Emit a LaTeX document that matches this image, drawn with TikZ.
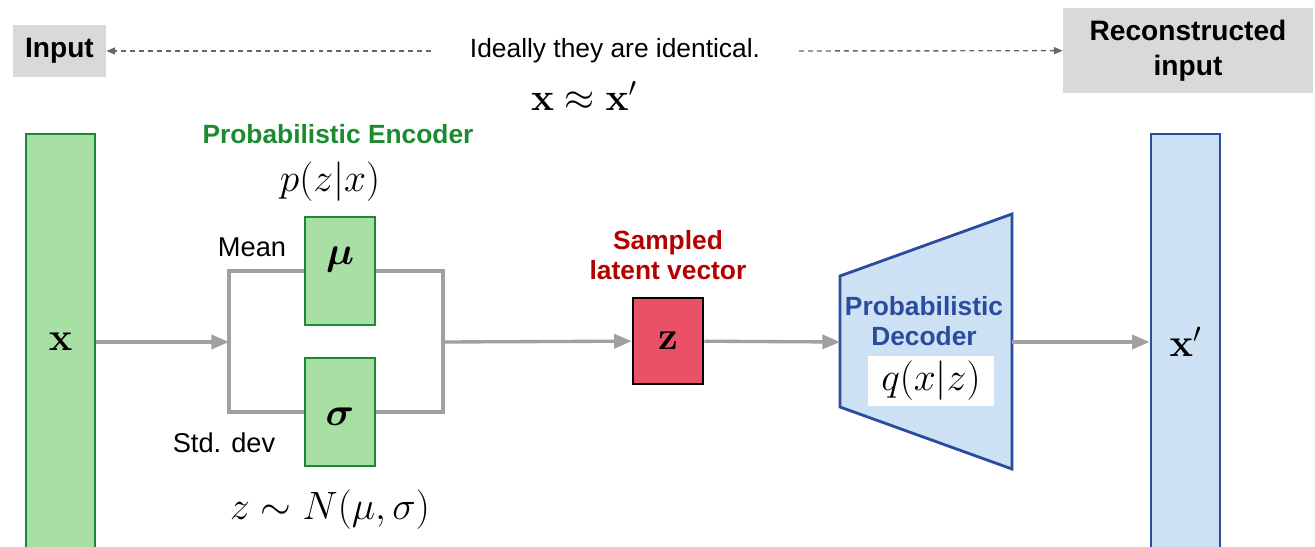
\RequirePackage{fix-cm}
\documentclass[tikz,border=0pt]{standalone}
\usepackage{amsmath, amssymb}
\usepackage[no-math]{fontspec}
\setmainfont{Liberation Sans}
\usepackage{tikz}
\usetikzlibrary{arrows.meta}
\usepackage{xcolor}

\definecolor{tagbg}{HTML}{D9D9D9}
\definecolor{encgreen}{HTML}{1C8A2E}
\definecolor{encfill}{HTML}{A8DFA4}
\definecolor{latentred}{HTML}{EA5166}
\definecolor{latenttext}{HTML}{B30000}
\definecolor{decblue}{HTML}{2B4C9E}
\definecolor{decfill}{HTML}{CDE1F4}
\definecolor{flowgray}{HTML}{A0A0A0}
\definecolor{hintgray}{HTML}{666666}

\begin{document}
\begin{tikzpicture}[
    x=0.02cm, y=-0.02cm,
    every node/.style={font=\fontsize{15.5}{18}\selectfont},
    tag/.style={fill=tagbg, inner sep=0pt, align=center,
        font=\fontsize{16}{19.8}\selectfont\bfseries},
    title/.style={align=center, font=\fontsize{15}{17}\selectfont\bfseries},
    math/.style={font=\fontsize{22.5}{27}\selectfont},
    greenbox/.style={draw=encgreen, fill=encfill, line width=1.6pt, inner sep=0pt},
    bluebox/.style={draw=decblue, fill=decfill, line width=1.6pt, inner sep=0pt},
    flow/.style={draw=flowgray, line width=1.9pt},
    flowarrow/.style={flow, -{Triangle[length=10pt,width=8pt]}},
    hint/.style={draw=hintgray, line width=0.8pt, dash pattern=on 2.8pt off 2.3pt,
        -{Triangle[length=5pt,width=4pt]}}
]
    \clip (0,0) rectangle (1315,547);

    % Top row: input, target and the remark between them
    \node[tag, minimum width=1.86cm, minimum height=1.04cm] (input) at (59.5,51) {Input};
    \node[tag, minimum width=5cm, minimum height=1.7cm] (recon) at (1188,50.5) {Reconstructed\\input};
    \node[inner xsep=22pt, font=\fontsize{15}{18}\selectfont] (ideal) at (615,51) {Ideally they are identical.};
    \node[math, font=\fontsize{22}{25}\selectfont] (same) at (584,96) {$\mathbf{x} \approx \mathbf{x}'$};

    % Encoder side
    \node[greenbox, math, minimum width=1.38cm, minimum height=8.32cm] (x) at (60.5,342) {$\mathbf{x}$};
    \node[greenbox, minimum width=1.4cm, minimum height=2.16cm] (mu) at (340,271) {};
    \node[math] (mu-sym) at (340,260) {$\boldsymbol{\mu}$};
    \node[greenbox, minimum width=1.4cm, minimum height=2.16cm] (sigma) at (340,412) {};
    \node[math] (sigma-sym) at (340,417) {$\boldsymbol{\sigma}$};

    \node[title, text=encgreen] (enc-title) at (338,134) {Probabilistic Encoder};
    \node[math] (enc-dist) at (330,182) {$p(z|x)$};
    \node (mean) at (252,247) {Mean};
    \node (std) at (224,443) {Std. dev};
    \node[math] (rule) at (330,510) {$z \sim N(\mu, \sigma)$};

    % Latent sample
    \node[draw=black, fill=latentred, line width=1.5pt, math,
        minimum width=1.4cm, minimum height=1.72cm] (z) at (668,341) {$\mathbf{z}$};
    \node[title, text=latenttext] (z-title) at (668,255) {Sampled\\latent vector};

    % Decoder side
    \coordinate (dec-in) at (840,342);
    \coordinate (dec-out) at (1012,342);
    \draw[draw=decblue, fill=decfill, line width=1.6pt]
        (840,276) -- (1012,214) -- (1012,469) -- (840,407) -- cycle;
    \node[title, text=decblue] (dec-title) at (924,321) {Probabilistic\\Decoder};
    \node[fill=white, math, inner sep=0pt, minimum width=2.52cm, minimum height=1.02cm] (dec-dist) at (931,381) {$q(x|z)$};

    \node[bluebox, math, minimum width=1.38cm, minimum height=8.32cm] (xr) at (1185.5,342) {$\mathbf{x}'$};

    % Connect everything
    \coordinate (split) at (229,342);
    \coordinate (merge) at (443,342);
    \draw[flowarrow] (x) -- (split);
    \draw[flow] (mu) -| (split) |- (sigma);
    \draw[flow] (mu) -| (merge) |- (sigma);
    \draw[flowarrow] (merge) -- (z);
    \draw[flowarrow] (z) -- (dec-in);
    \draw[flowarrow] (dec-out) -- (xr);

    \draw[hint] (ideal.west) -- (input);
    \draw[hint] (ideal.east) -- (recon);
\end{tikzpicture}
\end{document}
